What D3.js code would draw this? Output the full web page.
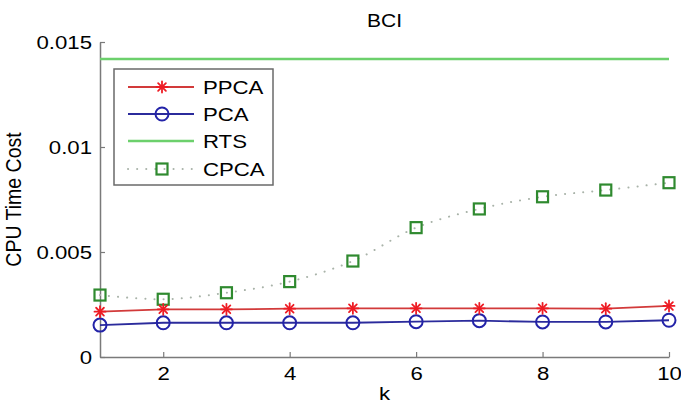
<!DOCTYPE html>
<html>
<head>
<meta charset="utf-8">
<script src="https://cdn.jsdelivr.net/npm/d3@7"></script>
<style>
  html, body { margin: 0; padding: 0; background: #fff; }
  svg { display: block; font-family: "Liberation Sans", Arial, sans-serif; }
</style>
</head>
<body>
<svg id="chart" width="681" height="405"></svg>
<script>
// CPU time cost per method as k grows (BCI dataset)
const kValues = [1, 2, 3, 4, 5, 6, 7, 8, 9, 10];
const ppca = [0.00216, 0.00227, 0.00227, 0.0023, 0.00232, 0.00232, 0.00232, 0.00232, 0.0023, 0.00243];
const pca  = [0.00152, 0.00163, 0.00163, 0.00163, 0.00163, 0.00168, 0.00173, 0.00167, 0.00167, 0.00175];
const rts  = [0.01419, 0.01419, 0.01419, 0.01419, 0.01419, 0.01419, 0.01419, 0.01419, 0.01419, 0.01419];
const cpca = [0.00295, 0.00275, 0.00306, 0.00359, 0.00457, 0.00616, 0.00705, 0.00763, 0.00795, 0.0083];
const xTicks = [2, 4, 6, 8, 10];
const yTicks = [0, 0.005, 0.01, 0.015];
const yTickLabels = ["0", "0.005", "0.01", "0.015"];
const seriesNames = ["PPCA", "PCA", "RTS", "CPCA"];

const svg = d3.select("#chart");
const mLeft = 100, mRight = 669, mTop = 42, mBottom = 357;

const x = d3.scaleLinear().domain([1, 10]).range([mLeft, mRight]);
const y = d3.scaleLinear().domain([0, 0.015]).range([mBottom, mTop]);

const axisColor = "#7a7a7a";
const fontSize = 18.5;
const textStretch = 1.2; // glyphs are drawn a little wider than tall

// Widen text around its anchor point
function stretch(sel) {
  sel.each(function () {
    const t = d3.select(this);
    const tx = +t.attr("x") || 0, ty = +t.attr("y") || 0;
    t.attr("x", 0).attr("y", 0)
      .attr("transform", `translate(${tx},${ty}) scale(${textStretch},1)`);
  });
}

// Axes with inward ticks
const xAxis = d3.axisBottom(x).tickValues(xTicks).tickFormat(d3.format("d"))
  .tickSizeInner(-5).tickSizeOuter(0).tickPadding(10);
const yAxis = d3.axisLeft(y).tickValues(yTicks).tickFormat((d, i) => yTickLabels[i])
  .tickSizeInner(-5).tickSizeOuter(0).tickPadding(8);

const gx = svg.append("g").attr("transform", `translate(0,${mBottom})`).call(xAxis);
const gy = svg.append("g").attr("transform", `translate(${mLeft},0)`).call(yAxis);
[gx, gy].forEach(g => {
  g.select(".domain").attr("stroke", axisColor).attr("stroke-width", 1.5);
  g.selectAll(".tick line").attr("stroke", axisColor).attr("stroke-width", 1.2);
  g.selectAll(".tick text").attr("fill", "#000").style("font-size", fontSize + "px")
    .style("font-family", "Liberation Sans, Arial, sans-serif");
  stretch(g.selectAll(".tick text"));
});
gx.selectAll(".tick text").attr("dy", "0.71em");
gy.selectAll(".tick text").attr("dy", "0.36em");

// Title and axis labels
stretch(svg.append("text").attr("x", (mLeft + mRight) / 2).attr("y", 27).attr("text-anchor", "middle")
  .style("font-size", "17.5px").text("BCI"));
stretch(svg.append("text").attr("x", (mLeft + mRight) / 2).attr("y", 400).attr("text-anchor", "middle")
  .style("font-size", fontSize + "px").text("k"));
svg.append("text")
  .attr("transform", `translate(21,${(mTop + mBottom) / 2}) scale(1.15,1) rotate(-90)`)
  .attr("text-anchor", "middle").style("font-size", "19.5px").text("CPU Time Cost");

const pts = vals => kValues.map((k, i) => [k, vals[i]]);
const line = d3.line().x(d => x(d[0])).y(d => y(d[1]));
const smooth = d3.line().x(d => x(d[0])).y(d => y(d[1])).curve(d3.curveCatmullRom.alpha(0.5));

const styles = {
  PPCA: { line: "#d23a3a", marker: "#ee1c24" },
  PCA:  { line: "#2b2b9c", marker: "#2323a8" },
  RTS:  { line: "#6cd06c" },
  CPCA: { line: "#a9b3a9", marker: "#2f8a2f" }
};

// Marker drawers
function star(g, cx, cy, color, r) {
  const gg = g.append("g").attr("transform", `translate(${cx},${cy})`)
    .attr("stroke", color).attr("stroke-width", 1.8).attr("stroke-linecap", "round");
  [0, 45, 90, 135].forEach(a => {
    const rad = a * Math.PI / 180;
    gg.append("line").attr("x1", -r * Math.cos(rad)).attr("y1", -r * Math.sin(rad))
      .attr("x2", r * Math.cos(rad)).attr("y2", r * Math.sin(rad));
  });
}
function circle(g, cx, cy, color) {
  g.append("circle").attr("cx", cx).attr("cy", cy).attr("r", 6.5)
    .attr("fill", "none").attr("stroke", color).attr("stroke-width", 2);
}
function square(g, cx, cy, color) {
  g.append("rect").attr("x", cx - 5.5).attr("y", cy - 5.5).attr("width", 11).attr("height", 11)
    .attr("fill", "none").attr("stroke", color).attr("stroke-width", 2.2);
}

const plot = svg.append("g");

// RTS
plot.append("path").attr("d", line(pts(rts))).attr("fill", "none")
  .attr("stroke", styles.RTS.line).attr("stroke-width", 2.5);

// CPCA dotted smooth curve
plot.append("path").attr("d", smooth(pts(cpca))).attr("fill", "none")
  .attr("stroke", styles.CPCA.line).attr("stroke-width", 2)
  .attr("stroke-dasharray", "0.1 9").attr("stroke-linecap", "round");

// PPCA and PCA lines
plot.append("path").attr("d", line(pts(pca))).attr("fill", "none")
  .attr("stroke", styles.PCA.line).attr("stroke-width", 1.8);
plot.append("path").attr("d", line(pts(ppca))).attr("fill", "none")
  .attr("stroke", styles.PPCA.line).attr("stroke-width", 1.8);

pts(cpca).forEach(d => square(plot, x(d[0]), y(d[1]), styles.CPCA.marker));
pts(pca).forEach(d => circle(plot, x(d[0]), y(d[1]), styles.PCA.marker));
pts(ppca).forEach(d => star(plot, x(d[0]), y(d[1]), styles.PPCA.marker, 5.5));

// Legend
const lg = svg.append("g");
lg.append("rect").attr("x", 114).attr("y", 69).attr("width", 159).attr("height", 116)
  .attr("fill", "#fff").attr("stroke", "#6a6a6a").attr("stroke-width", 1.5);
const rowY = [87, 114, 141, 169];
seriesNames.forEach((name, i) => {
  const cy = rowY[i];
  const st = styles[name];
  const seg = lg.append("line").attr("x1", 128).attr("x2", 194).attr("y1", cy).attr("y2", cy)
    .attr("stroke", st.line).attr("stroke-width", name === "RTS" ? 2.5 : 1.8);
  if (name === "CPCA") seg.attr("stroke-width", 2).attr("stroke-dasharray", "0.1 9")
    .attr("stroke-linecap", "round");
  if (name === "PPCA") star(lg, 162, cy, st.marker, 5.5);
  if (name === "PCA") circle(lg, 162, cy, st.marker);
  if (name === "CPCA") square(lg, 162, cy, st.marker);
  stretch(lg.append("text").attr("x", 203).attr("y", cy).attr("dy", "0.36em")
    .style("font-size", fontSize + "px").text(name));
});
</script>
</body>
</html>
